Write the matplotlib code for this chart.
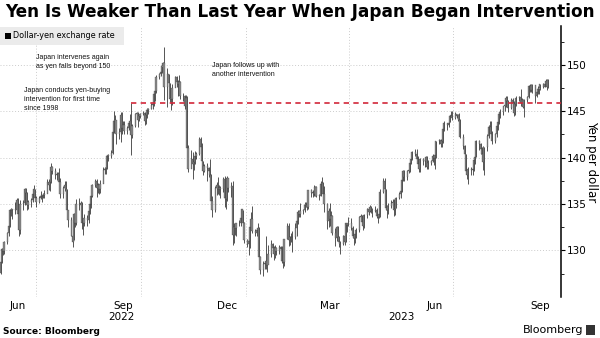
import numpy as np
import pandas as pd
import matplotlib
matplotlib.use("Agg")
import matplotlib.pyplot as plt
import matplotlib.dates as mdates
from matplotlib.patches import Rectangle

# Daily USD/JPY candles, one value per business day starting 2022-05-31
first_day = "2022-05-31"
first_open = 127.6

close = [
    128.7,
    130.1, 129.9, 130.9, 131.9, 132.6, 134.3, 134.4, 134.4, 134.4, 135.4, 133.9, 132.2, 135.0, 135.1, 136.6, 136.2, 134.9, 135.2, 135.4, 136.1, 136.6, 135.7,
    135.2, 135.7, 135.9, 135.9, 136.0, 136.1, 137.4, 137.0, 137.4, 139.0, 138.6, 138.1, 138.2, 138.2, 137.4, 136.1, 136.7, 137.0, 136.6, 134.3, 133.3,
    131.6, 130.9, 133.9, 133.0, 135.0, 134.9, 135.1, 132.9, 133.0, 133.5, 133.3, 134.2, 135.0, 135.9, 137.0, 137.5, 136.7, 137.1, 136.6, 137.2, 138.7, 138.8, 138.9,
    140.2, 140.2, 140.5, 142.8, 144.0, 144.1, 142.5, 142.8, 144.6, 143.2, 143.5, 142.9, 143.2, 143.7, 144.0, 142.4, 143.4, 144.7, 144.8, 144.1, 144.5, 144.7,
    144.8, 144.0, 144.6, 145.1, 145.3, 145.7, 145.8, 146.9, 147.2, 148.7, 149.0, 149.2, 149.9, 150.2, 147.6, 149.0, 148.0, 146.3, 146.3, 147.5, 148.7,
    148.2, 147.9, 148.2, 146.6, 146.6, 145.6, 146.4, 141.0, 138.8, 139.9, 139.3, 139.5, 140.2, 140.4, 142.0, 141.2, 139.6, 138.6, 139.1, 138.9, 138.6, 138.1,
    135.3, 134.3, 136.7, 137.0, 136.6, 136.6, 136.6, 137.7, 135.6, 135.5, 137.8, 136.7, 136.9, 131.7, 132.5, 132.4, 132.9, 132.9, 133.5, 134.5, 133.0, 131.1,
    130.7, 131.0, 132.5, 133.4, 132.1, 131.9, 132.2, 132.4, 129.3, 127.9, 128.5, 128.6, 128.9, 128.4, 129.6, 130.7, 130.2, 129.6, 130.2, 129.9, 130.4, 130.1,
    128.9, 128.7, 131.2, 132.6, 131.1, 131.4, 131.4, 131.4, 132.4, 133.2, 134.1, 133.9, 134.2, 134.3, 134.9, 134.9, 134.7, 136.5, 136.2, 136.2,
    136.1, 136.8, 135.9, 135.9, 137.2, 137.3, 136.1, 135.0, 133.2, 134.2, 133.4, 133.7, 131.9, 131.3, 132.5, 131.4, 130.9, 130.7, 131.5, 130.9, 132.9, 132.7, 132.9,
    132.4, 131.5, 131.3, 131.8, 132.2, 133.6, 133.7, 133.1, 132.6, 133.8, 134.5, 134.1, 134.7, 134.2, 134.2, 134.3, 133.7, 133.6, 133.9, 136.3,
    137.5, 136.6, 134.6, 134.3, 134.8, 135.1, 135.2, 134.4, 134.5, 135.7, 136.1, 136.4, 137.6, 138.6, 137.9, 138.6, 138.6, 139.4, 139.9, 140.6, 140.4, 139.8, 139.3,
    138.8, 139.9, 139.6, 139.6, 140.1, 139.0, 139.4, 139.6, 140.2, 140.0, 140.3, 141.8, 141.9, 141.5, 141.8, 143.1, 143.7, 143.5, 143.7, 144.5, 144.5, 144.3,
    144.7, 144.5, 144.6, 144.1, 142.2, 141.3, 140.4, 138.6, 138.1, 138.8, 138.7, 138.8, 139.7, 140.1, 141.8, 141.5, 140.9, 140.4, 139.5, 141.2, 142.3,
    143.3, 143.3, 142.6, 141.8, 142.5, 143.4, 143.8, 144.7, 144.9, 145.6, 145.6, 146.4, 146.1, 145.4, 146.2, 145.9, 144.8, 145.8, 146.4, 146.5, 145.9, 146.2, 145.5,
    146.2, 146.5, 147.7, 147.7, 147.3, 147.8, 146.6, 147.1, 147.4, 147.5, 147.9, 147.6, 147.9, 148.3, 147.6, 148.4,
]

high = [
    128.9,
    130.2, 130.3, 131.0, 132.0, 133.0, 134.5, 134.6, 134.5, 135.2, 135.6, 135.6, 135.0, 135.4, 135.4, 136.7, 136.7, 136.3, 135.4, 135.6, 136.4, 137.0, 136.6,
    135.9, 135.9, 136.4, 136.0, 136.2, 136.5, 137.7, 137.7, 137.9, 139.4, 139.1, 138.9, 138.4, 138.4, 138.9, 137.8, 136.9, 137.5, 137.5, 136.6, 134.3,
    133.6, 133.2, 134.0, 134.4, 135.5, 135.6, 135.3, 135.2, 133.4, 133.9, 133.8, 134.7, 135.5, 136.0, 137.2, 137.7, 137.7, 137.3, 137.1, 137.6, 139.0, 139.0, 139.1,
    140.3, 140.4, 140.8, 143.1, 145.0, 144.6, 144.0, 143.2, 144.9, 144.9, 143.9, 143.9, 143.4, 143.8, 144.7, 145.9, 143.6, 144.8, 144.9, 144.9, 144.6, 144.8,
    145.0, 144.9, 144.7, 145.4, 145.4, 145.9, 146.0, 147.0, 147.7, 148.9, 149.1, 149.3, 149.9, 150.3, 151.9, 149.7, 149.0, 148.1, 146.7, 147.9, 148.8,
    148.8, 148.4, 148.9, 148.3, 147.0, 146.8, 146.8, 146.6, 141.4, 140.8, 140.6, 139.9, 140.7, 140.6, 142.2, 142.2, 141.6, 139.6, 139.3, 139.4, 139.0, 139.9,
    138.2, 135.9, 136.9, 137.4, 137.9, 137.1, 136.9, 137.9, 138.0, 135.9, 138.0, 137.8, 137.4, 137.5, 132.9, 132.8, 133.0, 133.3, 133.6, 134.5, 134.4, 133.1,
    131.2, 131.5, 132.7, 134.1, 134.8, 132.3, 132.4, 132.9, 132.5, 129.4, 128.9, 128.9, 131.6, 129.1, 130.6, 131.1, 130.8, 130.5, 130.6, 130.4, 130.6, 130.5,
    130.5, 128.9, 131.2, 132.9, 132.9, 131.6, 131.9, 132.1, 132.9, 133.3, 134.4, 134.3, 135.1, 134.5, 135.2, 135.2, 135.1, 136.5, 136.6, 136.5,
    137.1, 136.9, 136.9, 136.1, 137.5, 137.9, 137.4, 136.9, 135.1, 134.6, 135.1, 134.2, 133.8, 132.4, 132.6, 132.6, 131.5, 131.0, 131.7, 131.6, 132.9, 133.0, 133.6,
    133.5, 132.6, 131.8, 132.0, 132.4, 133.7, 133.9, 133.8, 133.4, 133.9, 134.6, 134.6, 134.9, 134.8, 134.6, 134.8, 134.6, 133.8, 134.2, 136.6,
    137.8, 137.8, 136.6, 134.9, 135.1, 135.4, 135.5, 135.5, 134.9, 135.8, 136.3, 136.6, 137.7, 138.7, 138.7, 138.7, 138.9, 139.6, 140.2, 140.7, 140.9, 140.9, 140.2,
    139.6, 140.0, 140.0, 139.8, 140.2, 140.2, 139.7, 139.7, 140.4, 140.2, 141.0, 141.8, 142.0, 142.0, 141.9, 143.2, 143.9, 143.7, 144.0, 144.6, 145.0, 145.0,
    144.9, 144.7, 144.7, 144.8, 144.2, 142.6, 141.4, 140.4, 138.8, 139.0, 139.0, 139.4, 139.9, 140.4, 141.9, 141.9, 141.6, 141.1, 141.3, 141.2, 142.6,
    143.5, 143.9, 143.9, 142.9, 142.7, 143.6, 143.9, 144.9, 145.2, 145.6, 145.9, 146.6, 146.6, 146.2, 146.4, 146.4, 146.1, 146.1, 146.6, 146.7, 147.4, 146.4, 146.3,
    146.3, 146.6, 147.8, 147.9, 147.9, 147.9, 147.6, 147.2, 147.7, 147.5, 147.9, 148.0, 148.0, 148.5, 148.5, 148.5,
]

low = [
    127.5,
    128.6, 129.5, 129.6, 130.7, 131.6, 132.5, 133.7, 133.4, 133.9, 134.1, 133.5, 131.5, 131.8, 134.4, 134.9, 135.8, 134.3, 134.5, 134.7, 135.2, 135.9, 135.6,
    134.7, 135.1, 135.5, 135.2, 135.6, 135.7, 136.5, 136.5, 136.4, 137.3, 138.2, 137.7, 137.6, 137.8, 137.2, 135.6, 135.6, 136.4, 136.4, 134.2, 132.5,
    131.6, 130.4, 131.1, 132.5, 132.7, 134.4, 134.6, 132.3, 131.7, 132.6, 132.6, 133.0, 133.9, 134.6, 135.8, 136.8, 135.8, 136.2, 136.1, 136.2, 137.5, 138.2, 138.2,
    138.8, 139.6, 140.0, 140.4, 142.7, 143.0, 141.5, 142.0, 141.7, 142.6, 143.0, 142.6, 142.6, 143.0, 142.8, 140.3, 142.1, 143.3, 144.5, 143.3, 144.0, 144.3,
    144.6, 143.5, 143.6, 144.3, 144.7, 145.2, 145.3, 145.6, 146.1, 147.0, 148.5, 148.8, 149.1, 149.7, 146.2, 145.5, 147.6, 146.0, 145.1, 145.7, 147.6,
    147.6, 146.6, 147.6, 146.3, 146.1, 145.3, 145.3, 140.9, 138.5, 138.9, 137.7, 138.7, 139.3, 139.8, 140.3, 141.0, 139.4, 138.1, 138.4, 137.5, 137.9, 137.5,
    135.1, 133.6, 134.1, 136.0, 136.1, 136.0, 135.7, 136.3, 134.7, 134.5, 135.3, 136.3, 135.8, 130.6, 130.8, 131.7, 131.6, 132.6, 132.6, 133.4, 132.8, 130.8,
    130.4, 129.5, 130.3, 132.2, 131.9, 131.5, 131.5, 131.9, 128.9, 127.5, 127.2, 128.0, 128.0, 127.7, 128.6, 129.3, 129.9, 129.0, 129.2, 129.5, 129.6, 129.8,
    128.6, 128.1, 128.3, 131.2, 130.5, 130.6, 130.9, 129.8, 131.2, 131.5, 132.8, 133.6, 133.6, 133.9, 134.1, 134.7, 134.3, 134.5, 135.8, 135.8,
    135.9, 135.9, 135.8, 135.4, 135.9, 137.0, 135.9, 134.1, 132.3, 132.5, 132.6, 132.9, 131.7, 130.5, 131.0, 131.2, 130.4, 129.6, 130.6, 130.6, 130.9, 132.0, 132.6,
    132.2, 131.3, 130.6, 130.8, 131.3, 132.0, 133.2, 132.8, 132.2, 132.4, 133.5, 133.8, 134.1, 134.0, 133.6, 134.1, 133.5, 133.0, 133.5, 133.6,
    136.2, 136.5, 134.3, 133.5, 133.9, 134.6, 134.8, 133.7, 133.8, 134.6, 135.5, 135.7, 136.3, 137.5, 137.5, 137.6, 138.3, 138.5, 139.3, 139.7, 140.2, 139.6, 139.0,
    138.4, 138.5, 139.2, 139.0, 139.2, 138.8, 138.8, 139.2, 139.5, 139.2, 138.8, 140.0, 141.5, 141.2, 141.2, 141.6, 142.9, 143.0, 143.3, 143.8, 144.4, 144.1,
    144.2, 144.3, 143.9, 143.5, 142.1, 140.9, 140.2, 138.2, 137.7, 137.2, 138.1, 138.1, 138.6, 139.3, 140.1, 140.8, 140.4, 140.1, 138.7, 138.1, 140.7,
    142.1, 142.8, 142.4, 141.5, 141.6, 142.2, 143.0, 143.6, 144.3, 144.6, 145.0, 145.5, 145.7, 144.9, 145.3, 145.4, 144.5, 144.6, 145.6, 146.1, 145.6, 145.6, 145.4,
    144.4, 146.0, 146.4, 147.1, 147.1, 147.0, 145.9, 146.5, 146.9, 146.9, 147.3, 147.5, 147.6, 147.8, 147.3, 147.5,
]

intervention_day = "2022-09-22"
intervention_level = 145.9

month_labels = ["Jun", "Sep", "Dec", "Mar", "Jun", "Sep"]
month_label_days = ["2022-06-15", "2022-09-15", "2022-12-15", "2023-03-15", "2023-06-15", "2023-09-15"]
grid_days = ["2022-07-01", "2022-10-01", "2023-01-01", "2023-04-01", "2023-07-01"]
year_labels = ["2022", "2023"]
year_label_days = ["2022-09-14", "2023-05-17"]
y_ticks = [130, 135, 140, 145, 150]

notes = [
    ("Japan intervenes again\nas yen falls beyond 150", 36, 54),
    ("Japan conducts yen-buying\nintervention for first time\nsince 1998", 24, 87),
    ("Japan follows up with\nanother intervention", 212, 62),
]

W, H = 600, 338
fig = plt.figure(figsize=(W / 100, H / 100), dpi=100)
ax = fig.add_axes([0, 1 - 296.7 / H, 560.5 / W, (296.7 - 26) / H])

dates = pd.bdate_range(first_day, periods=len(close))
x = mdates.date2num(dates)
c = np.array(close)
o = np.r_[first_open, c[:-1]]
hi = np.array(high)
lo = np.array(low)

ax.vlines(x, lo, hi, color="#111111", lw=0.5, zorder=3)
bottom = np.minimum(o, c)
height = np.maximum(np.abs(c - o), 0.08)
ax.bar(x, height, bottom=bottom, width=0.95, color="#8a8a8a",
       edgecolor="#3a3a3a", linewidth=0.2, zorder=4)

ax.hlines(intervention_level, mdates.datestr2num(intervention_day), mdates.datestr2num("2023-10-05"),
          color="#d2283a", lw=1.2, linestyles=(0, (3.2, 2.6)), zorder=5)

ax.set_xlim(mdates.datestr2num("2022-05-30 12:00"), mdates.datestr2num("2023-10-03"))
ax.set_ylim(125, 154.2)

# gridlines
for g in grid_days:
    ax.axvline(mdates.datestr2num(g), color="#cccccc", lw=0.7, ls=(0, (1, 2)), zorder=1)
for v in [125] + y_ticks:
    ax.axhline(v, color="#cccccc", lw=0.7, ls=(0, (1, 2)), zorder=1)

for s in ["top", "left", "bottom"]:
    ax.spines[s].set_visible(False)
ax.spines["right"].set_linewidth(1.1)

ax.yaxis.tick_right()
ax.set_yticks(y_ticks)
ax.set_yticks(np.arange(127.5, 154, 5), minor=True)
ax.tick_params(axis="y", which="major", length=3, width=0.8, pad=1.5, labelsize=7.5)
ax.tick_params(axis="y", which="minor", length=2, width=0.6)

ax.set_xticks(mdates.datestr2num(month_label_days))
ax.set_xticklabels(month_labels)
ax.tick_params(axis="x", length=0, pad=3, labelsize=7.5)
for lbl, d in zip(year_labels, year_label_days):
    ax.text(mdates.datestr2num(d), -0.055, lbl, transform=ax.get_xaxis_transform(),
            ha="center", va="top", fontsize=7.5)

fig.text(592 / W, 1 - 161.5 / H, "Yen per dollar", rotation=270,
         ha="center", va="center", fontsize=8.5)

for txt, px, py in notes:
    fig.text(px / W, 1 - py / H, txt, ha="left", va="top", fontsize=5,
             family="Liberation Sans", linespacing=1.45, color="#111111")

# legend box
fig.patches.append(Rectangle((0, 1 - 45 / H), 124 / W, 18 / H, transform=fig.transFigure,
                             facecolor="#ebebeb", edgecolor="none", zorder=0))
fig.patches.append(Rectangle((5 / W, 1 - 39 / H), 6 / W, 6 / H, transform=fig.transFigure,
                             facecolor="black", edgecolor="none", zorder=1))
fig.text(13 / W, 1 - 36 / H, "Dollar-yen exchange rate", ha="left", va="center", fontsize=5.8)

title = fig.text(0.5, 1 - 12 / H, "Yen Is Weaker Than Last Year When Japan Began Intervention",
                 ha="center", va="center", fontsize=11, fontweight="bold")
fig.text(3 / W, 1 - 331.5 / H, "Source: Bloomberg", ha="left", va="center",
         fontsize=6.5, fontweight="bold")
fig.text(583 / W, 1 - 330 / H, "Bloomberg", ha="right", va="center", fontsize=8)
fig.patches.append(Rectangle((586 / W, 1 - 335 / H), 9 / W, 10 / H, transform=fig.transFigure,
                             facecolor="#333333", edgecolor="none"))

fig.canvas.draw()
w = title.get_window_extent().width
title.set_fontsize(11 * 590 / w)

fig.savefig("out.png", dpi=100)
